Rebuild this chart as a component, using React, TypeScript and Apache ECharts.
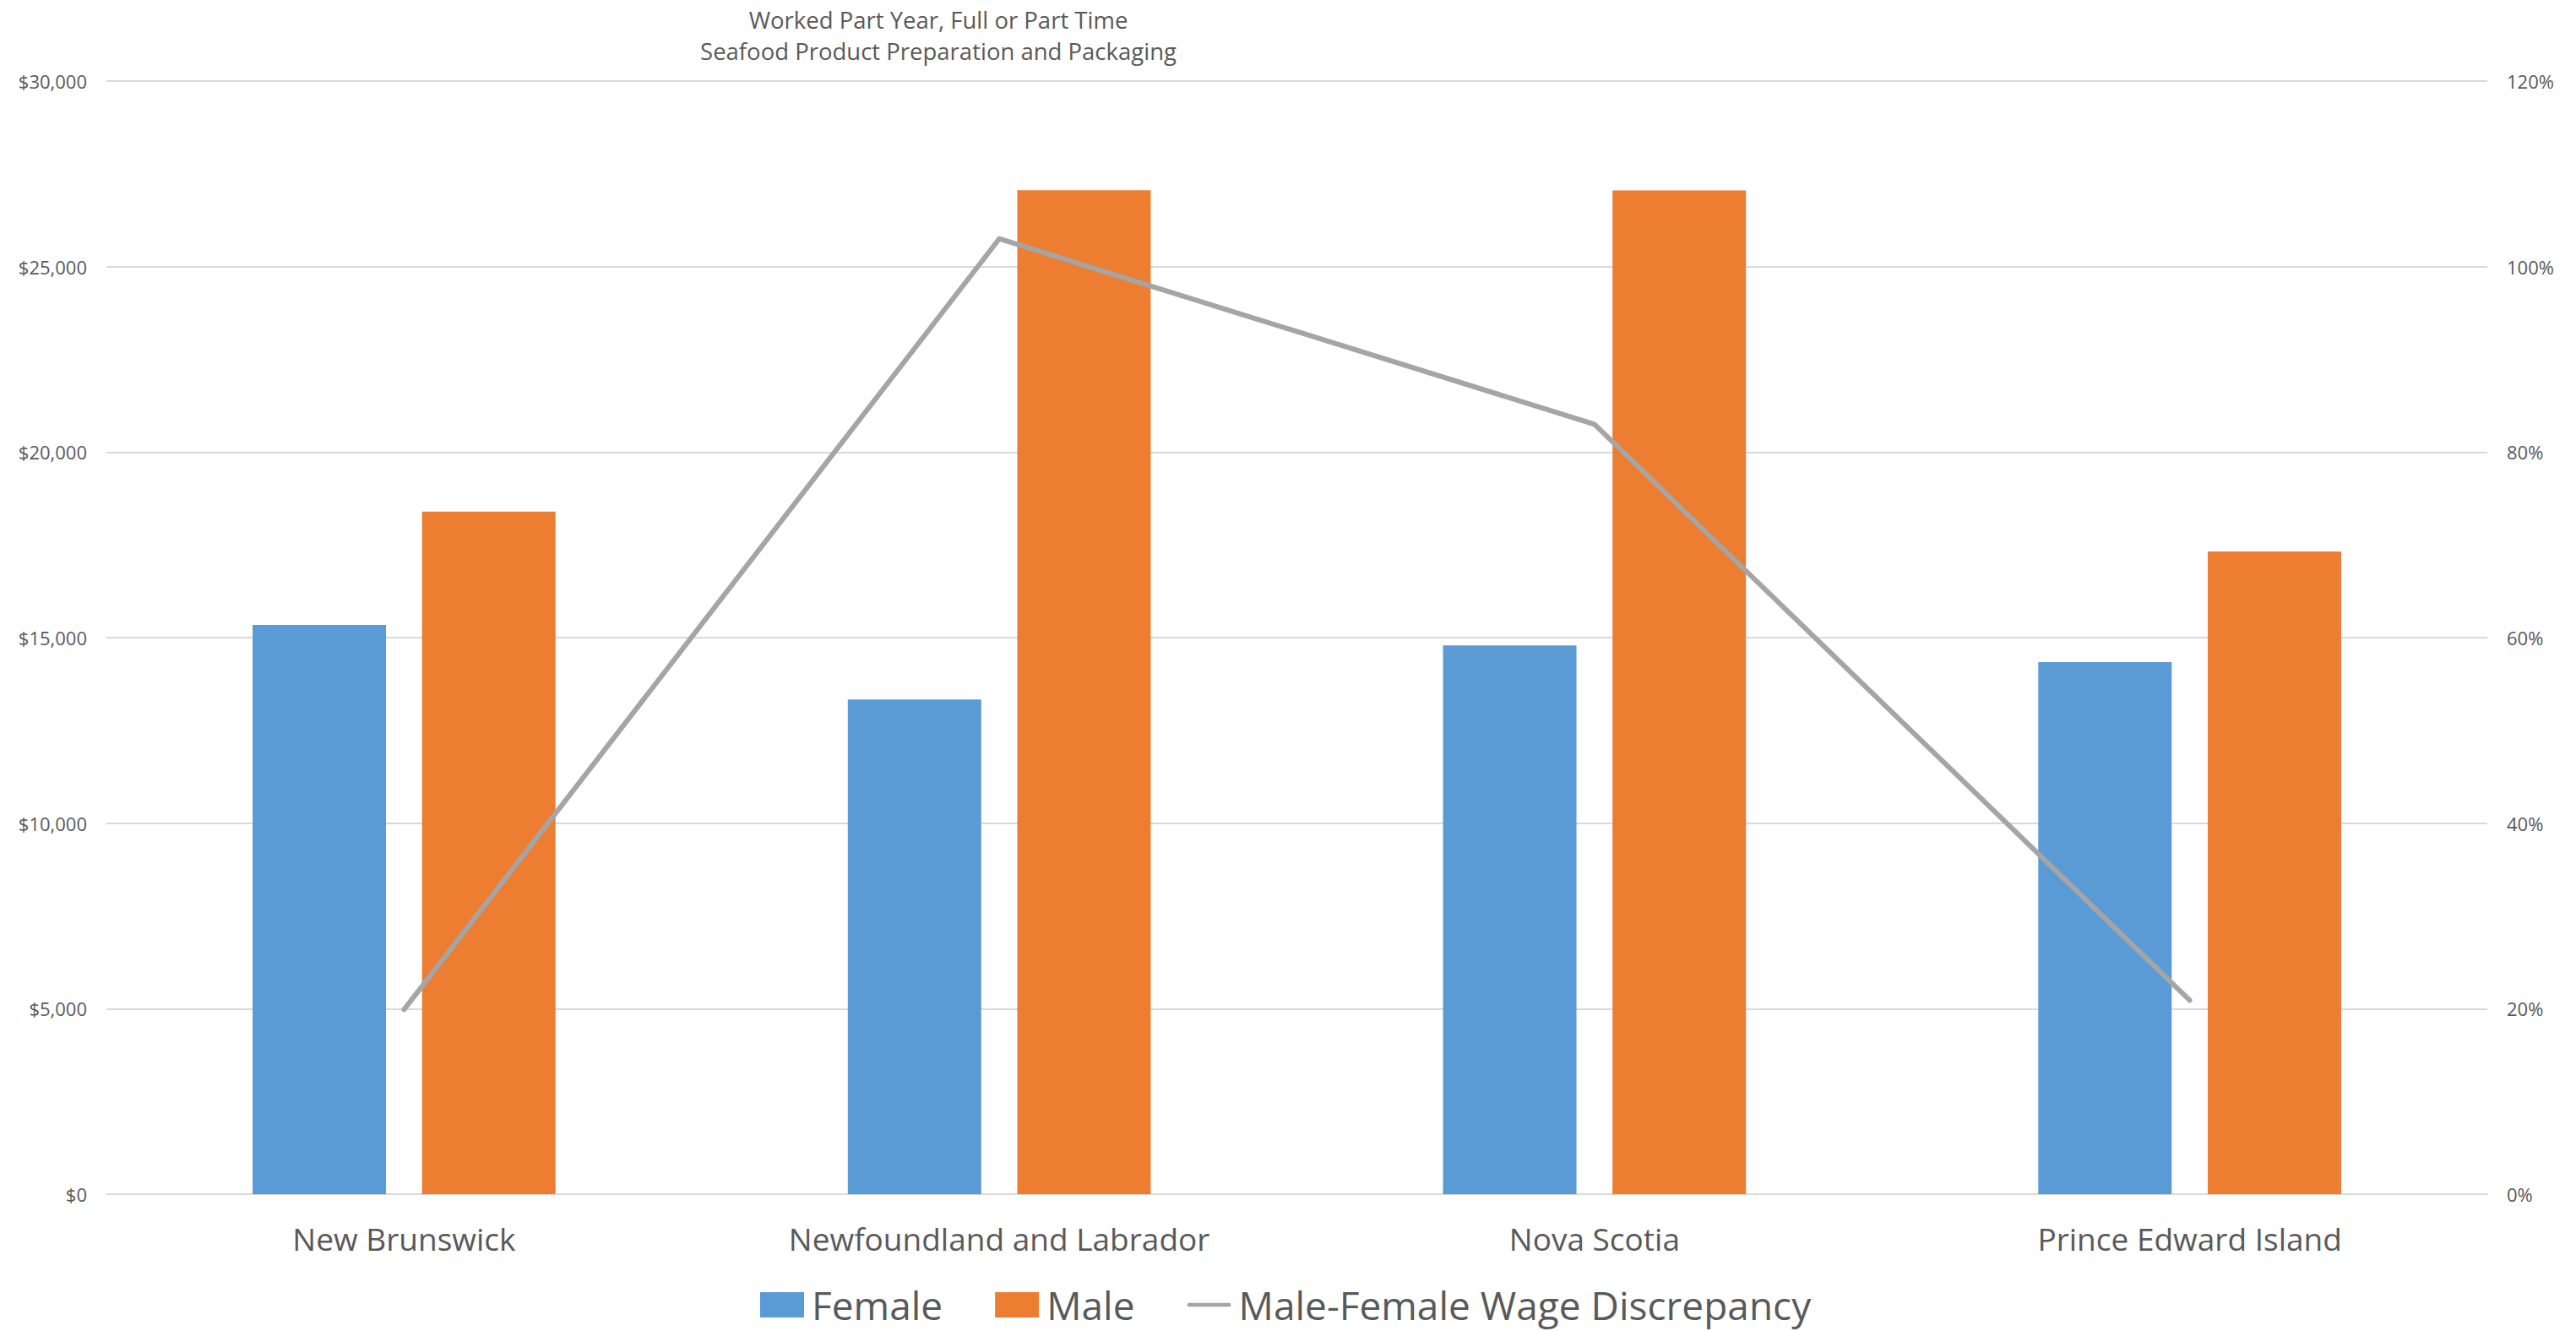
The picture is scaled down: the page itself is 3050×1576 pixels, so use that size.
import React, { useEffect, useRef } from "react";
import * as echarts from "echarts";

const categories = ["New Brunswick", "Newfoundland and Labrador", "Nova Scotia", "Prince Edward Island"];
const femaleWages = [15340, 13330, 14790, 14340];
const maleWages = [18400, 27060, 27050, 17320];
const discrepancy = [0.199, 1.03, 0.83, 0.209];
const titleLines = ["Worked Part Year, Full or Part Time", "Seafood Product Preparation and Packaging"];

const FONT = "'Open Sans', 'Noto Sans', sans-serif";
const TEXT = "#595959";
const LINE_ICON = "path://M0,0 M55,30 M2.5,12.5 h50 a2.5,2.5 0 0 1 0,5 h-50 a2.5,2.5 0 0 1 0,-5 z";

export default function App() {
  const ref = useRef<HTMLDivElement>(null);
  useEffect(() => {
    document.body.style.margin = "0";
    const chart = echarts.init(ref.current!, null, { renderer: "svg" });
    chart.setOption({
      animation: false,
      backgroundColor: "#ffffff",
      textStyle: { fontFamily: FONT, color: TEXT },
      graphic: [
        {
          type: "text",
          x: 1111,
          y: 23,
          style: { text: titleLines[0], fontSize: 27.5, fontFamily: FONT, fill: TEXT, textAlign: "center", textVerticalAlign: "middle" },
        },
        {
          type: "text",
          x: 1111,
          y: 60,
          style: { text: titleLines[1], fontSize: 27.5, fontFamily: FONT, fill: TEXT, textAlign: "center", textVerticalAlign: "middle" },
        },
      ],
      grid: { left: 126, right: 105, top: 96, bottom: 162, containLabel: false },
      legend: {
        left: 895,
        top: 1517,
        itemWidth: 52,
        itemHeight: 30,
        itemGap: 62,
        textStyle: { fontSize: 46, lineHeight: 46, fontFamily: FONT, color: TEXT, padding: [0, 0, 0, 4] },
        data: [
          { name: "Female", icon: "rect" },
          { name: "Male", icon: "rect" },
          { name: "Male-Female Wage Discrepancy", icon: LINE_ICON, itemStyle: { color: "#A5A5A5" } },
        ],
      },
      xAxis: {
        type: "category",
        data: categories,
        axisLine: { show: true, lineStyle: { color: "#D9D9D9", width: 2 } },
        axisTick: { show: false },
        axisLabel: { fontSize: 37, fontFamily: FONT, color: TEXT, margin: 34 },
      },
      yAxis: [
        {
          type: "value",
          min: 0,
          max: 30000,
          interval: 5000,
          axisLine: { show: false },
          axisTick: { show: false },
          splitLine: { lineStyle: { color: "#D9D9D9", width: 2 } },
          axisLabel: {
            fontSize: 22,
            fontFamily: FONT,
            color: TEXT,
            margin: 23,
            formatter: (v: number) => "$" + v.toLocaleString("en-US"),
          },
        },
        {
          type: "value",
          min: 0,
          max: 1.2,
          interval: 0.2,
          axisLine: { show: false },
          axisTick: { show: false },
          splitLine: { show: false },
          axisLabel: {
            fontSize: 22,
            fontFamily: FONT,
            color: TEXT,
            margin: 23,
            formatter: (v: number) => Math.round(v * 100) + "%",
          },
        },
      ],
      series: [
        {
          name: "Female",
          type: "bar",
          data: femaleWages,
          barWidth: 158,
          barGap: "27%",
          itemStyle: { color: "#5B9BD5" },
        },
        {
          name: "Male",
          type: "bar",
          data: maleWages,
          barWidth: 158,
          barGap: "27%",
          itemStyle: { color: "#ED7D31" },
        },
        {
          name: "Male-Female Wage Discrepancy",
          type: "line",
          yAxisIndex: 1,
          data: discrepancy,
          symbol: "none",
          lineStyle: { color: "#A5A5A5", width: 6, cap: "round", join: "round" },
          itemStyle: { color: "#A5A5A5" },
        },
      ],
    });
    return () => chart.dispose();
  }, []);
  return <div ref={ref} style={{ width: 3050, height: 1576 }} />;
}
